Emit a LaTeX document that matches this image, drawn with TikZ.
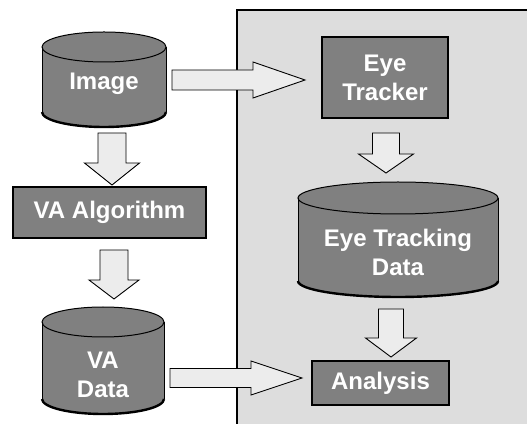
\documentclass[tikz,border=0pt]{standalone}
\usepackage{fontspec}
\setmainfont{Liberation Sans}
\usetikzlibrary{calc}
\definecolor{boxgray}{RGB}{128,128,128}
\definecolor{panelgray}{RGB}{221,221,221}
\definecolor{arrowfill}{RGB}{236,236,236}
\tikzset{
  lbl/.style={text=white,font=\fontsize{24}{29}\selectfont\bfseries,align=center,inner sep=0pt},
  procbox/.style={draw=black,line width=1.3pt,fill=boxgray,lbl},
  blockarrow/.style={draw=black,line width=0.9pt,fill=arrowfill,line join=miter},
}
% vertical block arrow: start, tip, shaft half width, head half width, head length
\newcommand{\bigdownarr}[5]{%
  \draw[blockarrow] let \p1=(#1), \p2=(#2) in
    ({\x1-#3pt},\y1) -- ({\x1+#3pt},\y1) -- ({\x1+#3pt},{\y2+#5pt}) --
    ({\x1+#4pt},{\y2+#5pt}) -- (\x2,\y2) -- ({\x1-#4pt},{\y2+#5pt}) --
    ({\x1-#3pt},{\y2+#5pt}) -- cycle;}
\newcommand{\bigrightarr}[5]{%
  \draw[blockarrow] let \p1=(#1), \p2=(#2) in
    (\x1,{\y1+#3pt}) -- ({\x2-#5pt},{\y1+#3pt}) -- ({\x2-#5pt},{\y1+#4pt}) --
    (\x2,\y2) -- ({\x2-#5pt},{\y1-#4pt}) -- ({\x2-#5pt},{\y1-#3pt}) --
    (\x1,{\y1-#3pt}) -- cycle;}
% cylinder: left, right, bottom, top, ry
\newcommand{\cylshape}[5]{%
  \pgfmathsetmacro{\rx}{(#2-#1)/2}
  \pgfmathsetmacro{\cx}{(#2+#1)/2}
  \fill[boxgray] (#1,#4-#5) -- (#1,#3+#5) arc[start angle=180,end angle=360,x radius=\rx,y radius=#5]
     -- (#2,#4-#5) arc[start angle=0,end angle=180,x radius=\rx,y radius=#5] -- cycle;
  \draw[line width=1pt] (#1,#4-#5) -- (#1,#3+#5);
  \draw[line width=1pt] (#2,#4-#5) -- (#2,#3+#5);
  \draw[line width=2.4pt] (#1,#3+#5) arc[start angle=180,end angle=360,x radius=\rx,y radius=#5];
  \draw[line width=1pt] (\cx,#4-#5) ellipse[x radius=\rx,y radius=#5];}
\begin{document}
\begin{tikzpicture}[x=1pt,y=1pt]
\useasboundingbox (0,0) rectangle (527,423);
\fill[white] (0,0) rectangle (527,423);
\clip (0,0) rectangle (527,423);
% right panel
\draw[line width=1.5pt,fill=panelgray] (237,-10) rectangle (560,413);

% cylinders
\cylshape{42}{166}{296}{391}{15}
\node[lbl] (img) at (104,339) {Image};
\cylshape{42}{164}{9}{116}{15}
\node[lbl] (vadata) at (103,48) {VA\\Data};
\cylshape{298}{498}{126}{241}{16}
\node[lbl] (etdata) at (398,171) {Eye Tracking\\Data};

% boxes
\node[procbox,minimum width=193pt,minimum height=51pt] (alg) at (109.5,210.5) {VA Algorithm};
\node[procbox,minimum width=126pt,minimum height=81pt] (tracker) at (385,345.5) {Eye\\Tracker};
\node[procbox,minimum width=137pt,minimum height=44pt] (analysis) at (380.5,40) {Analysis};

% arrow end points
\coordinate (a1s) at (112,290);
\coordinate (a1t) at (112,238);
\coordinate (a2s) at (114,173);
\coordinate (a2t) at (114,124);
\coordinate (a3s) at (386,290);
\coordinate (a3t) at (386,250);
\coordinate (a4s) at (391,114);
\coordinate (a4t) at (391,66);
\coordinate (h1s) at (172,343);
\coordinate (h1t) at (305,343);
\coordinate (h2s) at (170,45);
\coordinate (h2t) at (302,45);

\bigdownarr{a1s}{a1t}{14}{27.5}{22}
\bigdownarr{a2s}{a2t}{14}{25}{19}
\bigdownarr{a3s}{a3t}{13.5}{27.5}{19}
\bigdownarr{a4s}{a4t}{12.5}{25.5}{19}
\bigrightarr{h1s}{h1t}{10}{18}{52}
\bigrightarr{h2s}{h2t}{9.5}{17}{51}
\end{tikzpicture}
\end{document}
